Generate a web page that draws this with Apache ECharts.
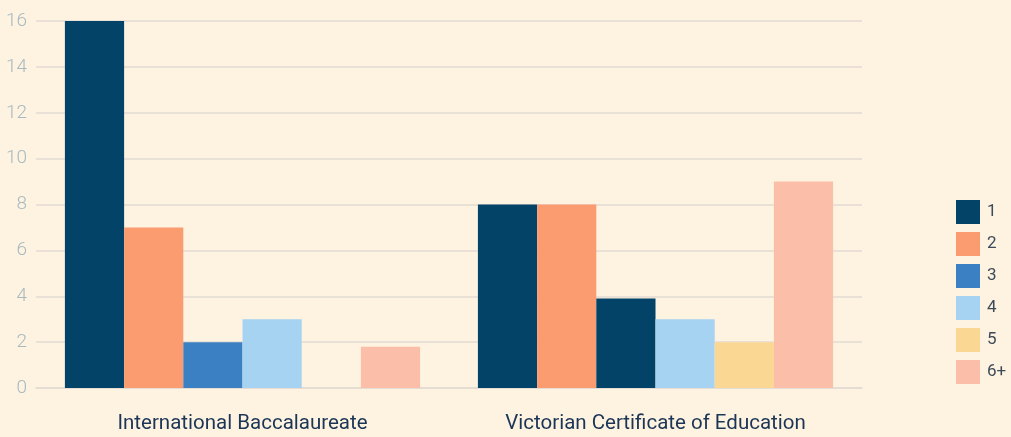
<!DOCTYPE html>
<html>
<head>
<meta charset="utf-8">
<script src="https://cdn.jsdelivr.net/npm/echarts@6/dist/echarts.min.js"></script>
<style>
  html, body { margin: 0; padding: 0; background: #fdf3e0; }
  #chart { width: 1011px; height: 437px; }
</style>
</head>
<body>
<div id="chart"></div>
<script>
const categories = ['International Baccalaureate', 'Victorian Certificate of Education']
const seriesNames = ['1', '2', '3', '4', '5', '6+']
const seriesColors = ['#034368', '#fa9c70', '#3b80c3', '#a5d3f1', '#fbd794', '#fbbfa9']
const values1 = [16, 8]
const values2 = [7, 8]
const values3 = [2, 3.9]
const values4 = [3, 3]
const values5 = [null, 2]
const values6 = [1.8, 9]
const yTicks = [0, 2, 4, 6, 8, 10, 12, 14, 16]

const allValues = [values1, values2, values3, values4, values5, values6]

const chart = echarts.init(document.getElementById('chart'))

const series = allValues.map((vals, i) => ({
  name: seriesNames[i],
  type: 'bar',
  barGap: '0%',
  barCategoryGap: '14%',
  itemStyle: { color: seriesColors[i] },
  // the VCE bar for "3" is drawn in the navy of "1" in the original
  data: vals.map((v, j) => (i === 2 && j === 1 ? { value: v, itemStyle: { color: '#034368' } } : v)),
}))

chart.setOption({
  backgroundColor: '#fdf3e0',
  animation: false,
  grid: { left: 36, right: 149, top: 21, bottom: 49, containLabel: false },
  legend: {
    orient: 'vertical',
    left: 956,
    top: 200,
    padding: 0,
    itemWidth: 24,
    itemHeight: 24,
    itemGap: 8,
    icon: 'rect',
    textStyle: { color: '#3d4a5a', fontSize: 17, fontFamily: 'Roboto', padding: [0, 0, 0, 2] },
    data: seriesNames,
  },
  xAxis: {
    type: 'category',
    data: categories,
    axisLine: { lineStyle: { color: '#e3dbd3', width: 1.5 } },
    axisTick: { show: false },
    axisLabel: { color: '#1c3556', fontSize: 20.5, fontFamily: 'Roboto', margin: 25 },
  },
  yAxis: {
    type: 'value',
    min: yTicks[0],
    max: yTicks[yTicks.length - 1],
    interval: 2,
    axisLine: { show: false },
    axisTick: { show: false },
    splitLine: { lineStyle: { color: '#e3dbd3', width: 1.5 } },
    axisLabel: { color: '#a9b9c0', fontSize: 19, fontFamily: 'Roboto', fontWeight: 300, margin: 9 },
  },
  series,
})
</script>
</body>
</html>
